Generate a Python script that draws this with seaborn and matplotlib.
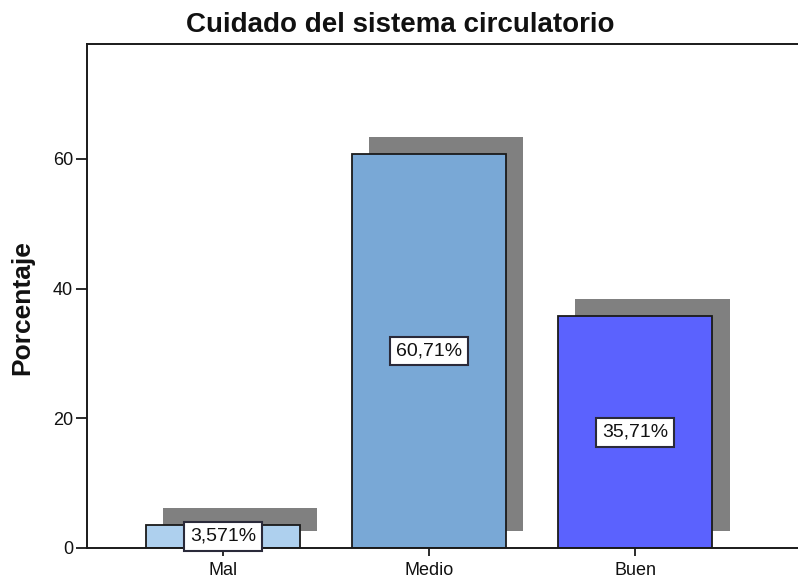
import numpy as np
import pandas as pd
from matplotlib import pyplot as plt
import seaborn as sns

# %% Data
categorias = ["Mal", "Medio", "Buen"]
porcentajes = [3.571, 60.71, 35.71]
etiquetas = ["3,571%", "60,71%", "35,71%"]
colores = ["#aed0ee", "#79a8d6", "#5b62fe"]

# %% Plot
sns.set_style("white")
plt.rcParams["font.family"] = ["Liberation Sans", "DejaVu Sans"]
plt.rcParams["text.color"] = "#111111"
plt.rcParams["axes.labelcolor"] = "#111111"
plt.rcParams["xtick.labelcolor"] = "#111111"
plt.rcParams["ytick.labelcolor"] = "#111111"

my_dpi = 100
fig = plt.figure(figsize=(798 / my_dpi, 585 / my_dpi), dpi=my_dpi)
ax = fig.add_axes([87 / 798, 37 / 585, 1 - 87 / 798, (548 - 44) / 585])

data = pd.DataFrame({"cat": categorias, "pct": porcentajes})
pos = np.arange(len(categorias))

# shadow behind bars
dx, dy = 0.083, 2.65
ax.bar(pos + dx, porcentajes, bottom=dy, width=0.75, color="#808080",
       linewidth=0, zorder=1)

sns.barplot(data=data, x="cat", y="pct", hue="cat", palette=colores,
            saturation=1, width=0.75, edgecolor="#1a1a1a", linewidth=1.3,
            legend=False, ax=ax, zorder=2)

for i, (v, txt) in enumerate(zip(porcentajes, etiquetas)):
    ax.text(i, v / 2, txt, ha="center", va="center", fontsize=14, zorder=5,
            bbox=dict(boxstyle="square,pad=0.3", fc="white", ec="#2a2a3a", lw=1.5))

ax.set_xlim(-0.66, 2.79)
ax.set_ylim(0, 77.7)
ax.set_yticks([0, 20, 40, 60])
ax.tick_params(axis="both", direction="out", width=1.3, labelsize=13,
               color="#1a1a1a", left=True, bottom=True)
ax.tick_params(axis="y", length=8, pad=2)
ax.tick_params(axis="x", length=6, pad=4)
for s in ["left", "top", "bottom"]:
    ax.spines[s].set_color("#1a1a1a")
    ax.spines[s].set_linewidth(1.4)
ax.spines["right"].set_visible(False)

ax.set_xlabel("")
ax.set_ylabel("Porcentaje", fontsize=19, fontweight="bold")
ax.yaxis.set_label_coords(-0.074, 0.478)
ax.set_title("Cuidado del sistema circulatorio", fontsize=20,
             fontweight="bold", x=0.44, pad=9)

plt.savefig("out.png", dpi=my_dpi)
